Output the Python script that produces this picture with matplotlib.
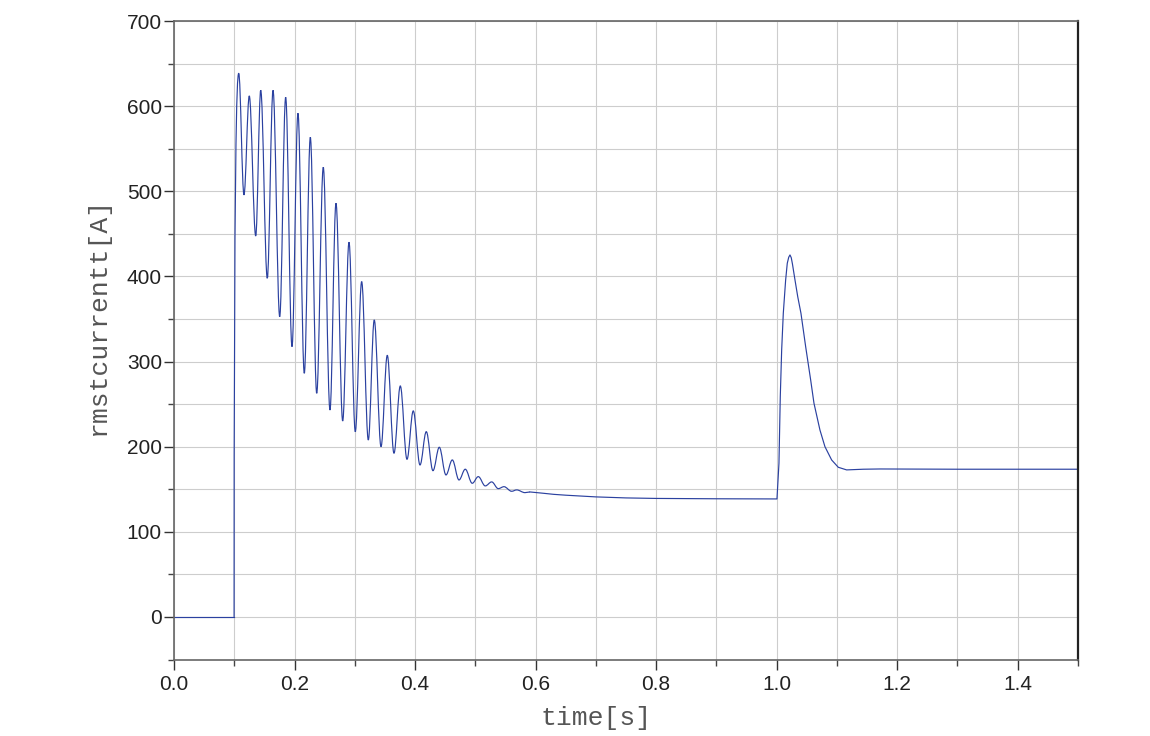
import numpy as np
import matplotlib
matplotlib.use("Agg")
import matplotlib.pyplot as plt
from matplotlib.path import Path
from matplotlib.patches import PathPatch
from matplotlib.ticker import MultipleLocator

# ---- data ----
# initial part: zero current, then switch-on at t ~ 0.1 s
t_pre = [0.0, 0.0997]
i_pre = [0.0, 0.0]

# oscillation extrema (alternating peak / trough), time [s], current [A]
t_osc = [0.1074, 0.1161, 0.1249, 0.1356, 0.1439, 0.1548, 0.1643, 0.1754,
         0.1853, 0.1958, 0.2057, 0.2162, 0.2262, 0.2368, 0.2477, 0.2588,
         0.2688, 0.2799, 0.2904, 0.3008, 0.3114, 0.3224, 0.3323, 0.3435,
         0.3539, 0.3650, 0.3755, 0.3866, 0.3970, 0.4082, 0.4186, 0.4297,
         0.4402, 0.4513, 0.4618, 0.4729, 0.4833, 0.4949, 0.5049, 0.5165,
         0.5271, 0.5381, 0.5475, 0.5603, 0.5686, 0.5824, 0.5907]
i_osc = [638.6, 495.7, 612.0, 447.5, 618.6, 397.8, 618.6, 352.7,
         610.4, 317.5, 591.6, 286.2, 563.4, 262.7, 528.2, 243.1,
         485.9, 230.2, 440.1, 217.6, 393.9, 207.9, 348.8, 200.0,
         307.3, 192.3, 271.3, 185.2, 242.0, 178.5, 217.6, 171.8,
         199.3, 166.8, 184.4, 160.9, 173.5, 157.0, 164.8, 153.9,
         158.6, 150.7, 153.0, 147.6, 149.2, 146.0, 146.8]

# slow settling and load step at t = 1.0 s
t_tail = [0.5907, 0.6123, 0.63, 0.65, 0.70, 0.75, 0.80, 0.90, 1.0005,
          1.0005, 1.0038, 1.0060, 1.0083, 1.0110, 1.0149, 1.0176, 1.0200,
          1.0221, 1.0242, 1.0262, 1.0304, 1.0350, 1.0403, 1.0481, 1.0564,
          1.0619, 1.0718, 1.0801, 1.0912, 1.1022, 1.1161, 1.1437, 1.1714,
          1.30, 1.50]
i_tail = [146.8, 145.3, 144.0, 143.0, 141.0, 139.8, 139.2, 138.8, 138.6,
          138.6, 180.5, 258.7, 313.6, 356.7, 395.8, 415.4, 422.5,
          425.2, 422.0, 414.5, 395.8, 376.0, 356.7, 317.5, 278.4,
          251.0, 219.6, 200.0, 184.4, 175.8, 172.7, 173.5, 173.8,
          173.5, 173.5]

x_ticks = [0.0, 0.2, 0.4, 0.6, 0.8, 1.0, 1.2, 1.4]
y_ticks = [0, 100, 200, 300, 400, 500, 600, 700]

LINE_C = "#2b41a0"
LW = 0.85

fig = plt.figure(figsize=(11.5, 7.36), dpi=100)
ax = fig.add_axes([174 / 1150, 1 - 659.5 / 736, (1078 - 174) / 1150, (659.5 - 21) / 736])

# straight initial segment and switch-on edge
ax.plot(t_pre, i_pre, color=LINE_C, lw=LW, solid_joinstyle="miter")

# oscillating part drawn as smooth curve through the extrema
verts = [(t_pre[-1], i_pre[-1])]
codes = [Path.MOVETO]
x0, y0 = t_pre[-1], i_pre[-1]
x1, y1 = t_osc[0], i_osc[0]
verts += [(x0, y0 + 0.85 * (y1 - y0)), (x1 - 0.45 * (x1 - x0), y1), (x1, y1)]
codes += [Path.CURVE4] * 3
k = 0.3642
for j in range(1, len(t_osc)):
    xa, ya = t_osc[j - 1], i_osc[j - 1]
    xb, yb = t_osc[j], i_osc[j]
    dx = xb - xa
    verts += [(xa + k * dx, ya), (xb - k * dx, yb), (xb, yb)]
    codes += [Path.CURVE4] * 3
patch = PathPatch(Path(verts, codes), fill=False, edgecolor=LINE_C, lw=LW)
ax.add_patch(patch)

ax.plot(t_tail, i_tail, color=LINE_C, lw=LW)

ax.set_xlim(0, 1.5)
ax.set_ylim(-50, 700)
ax.set_xticks(x_ticks)
ax.set_yticks(y_ticks)
ax.set_xticklabels([f"{v:.1f}" for v in x_ticks])
ax.set_yticklabels([str(v) for v in y_ticks])
ax.xaxis.set_minor_locator(MultipleLocator(0.1))
ax.yaxis.set_minor_locator(MultipleLocator(50))
ax.grid(which="both", color="#cdcdcd", lw=0.8)
ax.set_axisbelow(True)

ax.tick_params(which="major", length=7.2, width=1.0, color="#333333",
               labelsize=15, labelcolor="#222222")
ax.tick_params(axis="y", which="major", pad=1.5)
ax.tick_params(axis="x", which="major", pad=4)
ax.tick_params(which="minor", length=4.5, width=1.0, color="#444444")
for lab in ax.get_xticklabels() + ax.get_yticklabels():
    lab.set_fontfamily("Liberation Sans")

for side in ["left", "bottom", "top"]:
    ax.spines[side].set_color("#666666")
    ax.spines[side].set_linewidth(1.2)
ax.spines["right"].set_color("#222222")
ax.spines["right"].set_linewidth(1.6)

fig.text(596 / 1150, 1 - 718 / 736, "time[s]", family="Liberation Mono",
         fontsize=19, color="#555555", ha="center", va="center")
fig.text(98 / 1150, 1 - 316 / 736, "rmstcurrentt[A]", family="Liberation Mono",
         fontsize=19, color="#555555", ha="center", va="center", rotation=90)

fig.savefig("out.png", dpi=100)
